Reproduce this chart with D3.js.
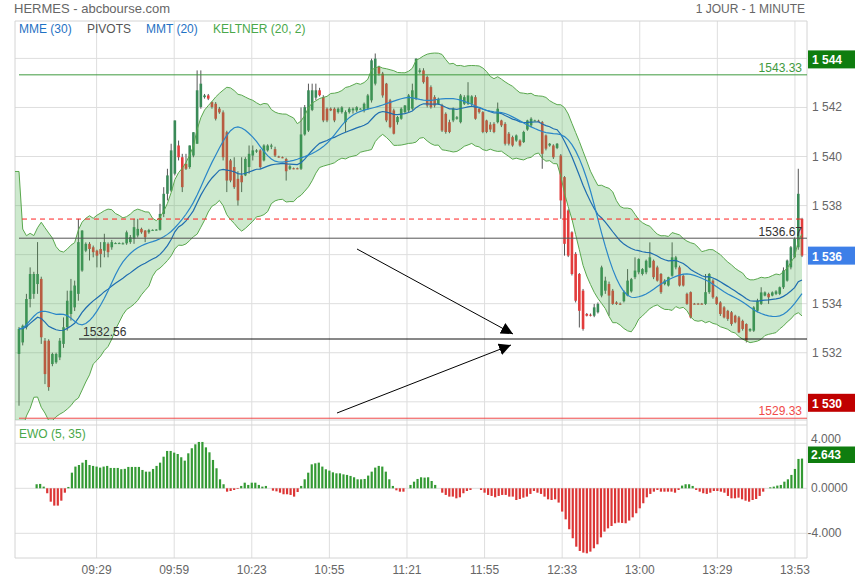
<!DOCTYPE html>
<html><head><meta charset="utf-8">
<script src="https://cdn.jsdelivr.net/npm/d3@7"></script>
<style>body{margin:0;background:#fff;}svg{display:block;font-family:"Liberation Sans",Arial,sans-serif;}</style>
</head><body><svg id="c" width="855" height="580"></svg>
<script>
// ---------- DATA ----------
const opens=[1531.95,1532.42,1533.04,1534.19,1534.40,1534.80,1535.01,1532.49,1532.49,1531.54,
1531.61,1531.81,1532.36,1533.04,1533.58,1533.85,1534.40,1535.35,1536.16,1536.44,
1536.30,1536.16,1536.23,1536.16,1536.44,1536.30,1536.46,1536.46,1536.45,1536.46,
1536.51,1536.64,1536.78,1537.05,1536.98,1536.91,1537.00,1537.01,1537.01,1537.66,
1538.48,1538.61,1539.30,1540.45,1539.97,1539.70,1539.57,1540.04,1540.52,1542.02,
1542.42,1542.49,1542.22,1542.15,1541.95,1541.80,1540.99,1539.84,1539.57,1539.09,
1539.23,1539.23,1539.57,1540.04,1540.20,1540.25,1539.84,1540.25,1540.40,1540.30,
1540.00,1539.97,1539.90,1539.50,1539.52,1539.52,1539.50,1540.90,1541.06,1541.90,
1542.40,1542.70,1542.42,1541.95,1541.95,1541.95,1541.81,1541.81,1541.40,1541.81,
1541.88,1541.88,1541.94,1541.88,1541.95,1542.29,1542.97,1543.65,1543.38,1542.97,
1542.29,1541.88,1541.40,1541.54,1541.81,1541.88,1541.95,1542.35,1543.45,1543.51,
1543.24,1542.83,1542.42,1542.15,1542.08,1541.74,1541.40,1541.47,1541.54,1541.40,
1542.15,1542.15,1542.15,1542.42,1541.95,1541.81,1541.47,1541.30,1541.33,1541.40,
1541.47,1541.33,1540.93,1540.79,1540.65,1540.65,1540.59,1541.10,1541.27,1541.46,
1541.46,1541.40,1540.86,1540.45,1540.45,1540.35,1540.04,1539.16,1537.80,1536.91,
1536.03,1535.21,1534.53,1533.58,1533.55,1533.51,1533.65,1534.33,1534.53,1534.80,
1534.53,1534.05,1534.00,1534.10,1534.33,1534.50,1535.08,1535.28,1535.21,1535.28,
1535.48,1535.75,1535.48,1535.21,1534.80,1534.74,1535.14,1535.48,1535.48,1535.14,
1534.40,1534.47,1534.00,1534.00,1534.00,1533.99,1534.47,1534.94,1534.26,1534.05,
1533.85,1533.71,1533.65,1533.51,1533.44,1533.30,1533.17,1532.90,1532.90,1533.71,
1533.99,1534.33,1534.40,1534.33,1534.40,1534.40,1534.67,1534.94,1535.48,1535.89,
1536.30,1537.46];
const highs=[1533.05,1533.15,1534.40,1535.48,1535.30,1536.51,1535.10,1532.60,1532.55,1532.00,
1532.00,1532.60,1533.44,1534.53,1535.01,1534.94,1537.46,1537.00,1536.50,1536.51,
1536.37,1536.20,1536.51,1536.85,1536.50,1536.60,1536.50,1536.50,1536.50,1536.98,
1536.80,1537.46,1537.46,1537.10,1537.00,1537.05,1537.03,1537.04,1538.07,1538.75,
1539.50,1540.52,1541.47,1540.65,1540.11,1540.11,1540.45,1540.99,1543.51,1543.51,
1542.55,1542.55,1542.25,1542.22,1542.02,1541.88,1541.05,1539.90,1539.97,1539.40,
1539.97,1539.97,1540.45,1540.45,1540.30,1540.30,1540.50,1540.50,1540.52,1540.40,
1540.03,1540.00,1539.95,1539.65,1539.55,1539.55,1542.00,1542.10,1542.97,1542.97,
1542.97,1542.80,1542.50,1542.00,1542.00,1542.00,1542.00,1542.05,1541.88,1542.01,
1542.00,1542.05,1541.97,1542.20,1542.55,1543.99,1544.20,1543.70,1543.45,1543.00,
1542.35,1541.95,1541.65,1542.00,1542.10,1542.55,1542.97,1544.00,1543.60,1543.60,
1543.30,1542.90,1542.50,1542.40,1542.15,1541.80,1541.50,1542.00,1541.65,1542.55,
1542.50,1543.03,1542.50,1542.50,1542.00,1541.85,1541.50,1541.40,1541.40,1542.20,
1541.50,1541.40,1541.00,1540.85,1540.90,1540.70,1541.05,1541.50,1541.60,1541.50,
1541.50,1541.45,1540.90,1540.55,1540.50,1540.55,1540.10,1539.20,1537.85,1536.95,
1536.10,1535.25,1534.60,1533.62,1533.60,1533.99,1534.05,1535.55,1535.10,1534.90,
1534.60,1534.10,1534.05,1534.55,1535.41,1535.05,1535.89,1535.85,1535.45,1535.80,
1536.50,1535.80,1535.55,1535.25,1535.00,1535.10,1536.50,1535.95,1535.55,1535.20,
1534.45,1534.50,1534.03,1534.03,1534.03,1535.21,1535.25,1535.00,1534.30,1534.10,
1533.90,1533.75,1533.70,1533.55,1533.50,1533.35,1533.20,1533.00,1533.90,1534.20,
1534.67,1534.50,1534.45,1534.50,1534.55,1534.70,1535.48,1535.80,1536.35,1536.70,
1539.50,1537.50];
const lows=[1529.84,1532.30,1532.95,1533.85,1534.20,1534.40,1532.36,1530.72,1530.45,1531.45,
1531.55,1531.70,1532.20,1532.90,1533.31,1533.70,1534.12,1535.30,1536.10,1535.76,
1535.89,1535.48,1535.48,1535.89,1535.89,1536.20,1536.44,1536.44,1536.42,1536.40,
1536.44,1536.44,1536.70,1536.85,1536.51,1536.85,1536.98,1536.98,1536.98,1537.53,
1538.21,1538.55,1539.23,1539.84,1538.55,1539.45,1539.50,1539.97,1540.52,1541.95,
1542.36,1542.30,1541.95,1541.47,1541.74,1539.84,1538.55,1538.95,1538.68,1538.00,
1538.55,1539.20,1539.30,1539.84,1540.15,1539.50,1539.80,1540.20,1540.30,1539.98,
1539.95,1539.93,1539.02,1539.45,1539.48,1539.48,1539.45,1540.85,1541.00,1541.85,
1542.30,1542.45,1541.40,1541.40,1541.85,1541.40,1541.75,1541.75,1541.00,1541.75,
1541.75,1541.81,1541.92,1541.80,1541.90,1542.20,1542.90,1543.30,1542.40,1541.40,
1541.15,1540.90,1541.30,1541.50,1541.75,1541.80,1541.90,1542.30,1543.38,1542.97,
1542.00,1541.95,1542.00,1542.10,1541.00,1540.93,1540.95,1541.40,1541.50,1541.35,
1542.10,1542.10,1542.05,1541.50,1541.75,1540.95,1540.95,1541.00,1540.95,1541.35,
1541.20,1540.45,1540.45,1540.40,1540.60,1540.40,1540.55,1541.05,1541.20,1541.44,
1541.42,1539.50,1540.25,1540.40,1539.90,1540.30,1537.46,1535.96,1535.90,1535.15,
1534.05,1533.03,1532.90,1533.48,1533.48,1533.45,1533.60,1534.26,1534.40,1533.51,
1533.95,1533.95,1533.95,1534.05,1534.30,1534.45,1535.00,1535.20,1535.15,1535.20,
1535.45,1535.00,1534.90,1534.40,1534.75,1534.70,1535.10,1535.40,1534.70,1534.70,
1533.95,1533.40,1533.97,1533.97,1533.97,1533.95,1534.40,1534.20,1533.95,1533.50,
1533.40,1533.30,1533.10,1533.20,1532.80,1532.90,1532.42,1532.85,1532.85,1533.65,
1533.95,1534.30,1533.99,1534.30,1534.35,1534.35,1534.60,1534.90,1535.40,1535.85,
1536.20,1535.90];
const closes=[1532.97,1533.10,1534.19,1535.21,1535.21,1535.21,1532.63,1531.13,1530.60,1531.95,
1531.95,1532.49,1533.04,1534.12,1534.53,1534.74,1536.51,1536.98,1536.44,1536.23,
1536.10,1535.96,1536.03,1536.51,1536.10,1536.51,1536.47,1536.47,1536.46,1536.91,
1536.71,1537.12,1537.05,1536.91,1536.71,1537.00,1537.01,1537.02,1537.66,1538.48,
1539.23,1540.25,1541.47,1539.97,1538.75,1539.50,1540.45,1540.99,1542.70,1542.97,
1542.49,1542.36,1542.02,1541.54,1541.80,1539.97,1539.02,1539.02,1538.75,1538.21,
1538.95,1539.90,1540.11,1540.25,1540.25,1539.57,1540.45,1540.45,1540.45,1540.04,
1539.97,1539.95,1539.40,1539.60,1539.50,1539.50,1540.90,1542.01,1542.70,1542.70,
1542.70,1542.50,1541.47,1541.47,1541.88,1541.47,1541.95,1542.00,1541.81,1541.95,
1541.95,1542.01,1541.95,1542.15,1542.49,1543.92,1543.99,1543.38,1542.49,1541.47,
1541.20,1540.93,1541.61,1541.95,1542.08,1542.49,1542.70,1543.99,1543.51,1543.03,
1542.08,1542.01,1542.08,1542.35,1541.06,1541.00,1541.00,1541.95,1541.60,1542.49,
1542.42,1542.49,1542.45,1541.54,1541.81,1541.00,1541.00,1541.10,1541.00,1541.95,
1541.27,1540.52,1540.52,1540.45,1540.86,1540.45,1541.00,1541.47,1541.54,1541.47,
1541.45,1540.11,1540.32,1540.52,1539.97,1540.52,1538.21,1536.44,1535.96,1535.21,
1534.12,1533.71,1532.97,1533.51,1533.51,1533.85,1533.99,1535.48,1534.94,1534.33,
1533.99,1533.99,1533.97,1534.47,1534.94,1535.00,1535.35,1535.82,1535.41,1535.75,
1535.89,1535.08,1534.94,1534.47,1534.94,1535.08,1535.89,1535.89,1534.74,1534.74,
1533.99,1533.44,1533.99,1533.99,1533.99,1534.47,1535.21,1534.26,1533.99,1533.58,
1533.44,1533.38,1533.17,1533.24,1532.83,1532.97,1532.49,1532.97,1533.85,1534.12,
1534.46,1534.46,1534.26,1534.46,1534.50,1534.67,1535.35,1535.76,1536.30,1536.64,
1538.48,1535.96];
const ewo=[null,null,null,null,null,0.36,0.39,0.15,-0.44,-1.19,
-1.54,-1.54,-1.10,-0.39,0.12,1.39,1.93,2.07,2.28,2.52,
2.07,1.99,1.93,1.84,1.93,1.99,1.81,1.81,1.81,1.70,
1.73,1.90,1.90,1.90,1.90,1.63,1.48,1.48,1.72,1.99,
2.28,2.81,3.32,3.32,3.17,3.05,2.76,2.46,3.11,3.56,
3.91,4.12,4.12,3.64,3.20,2.52,1.78,0.80,0.36,-0.30,
-0.24,-0.15,-0.06,0.21,0.50,0.30,0.50,0.50,0.30,0.15,
0.21,0,-0.21,-0.27,-0.39,-0.53,-0.53,-0.59,-0.74,-0.33,
0.21,0.80,1.39,2.13,2.22,2.28,1.93,1.69,1.57,1.42,
1.33,1.33,1.24,1.19,1.10,0.98,0.80,0.80,0.83,1.13,
1.48,1.84,1.99,1.93,1.48,0.80,0.21,-0.18,-0.30,-0.30,
0,0.30,0.59,0.83,0.98,0.95,0.98,0.65,0.30,0,
-0.39,-0.59,-0.74,-0.74,-0.89,-0.80,-0.44,-0.24,-0.15,0,
0,-0.15,-0.39,-0.59,-0.68,-0.80,-0.68,-0.59,-0.59,-0.74,
-0.74,-1.04,-0.95,-0.83,-0.74,-0.50,-0.24,-0.39,-0.50,-0.74,
-0.98,-1.04,-0.98,-1.27,-2.07,-2.76,-3.64,-4.44,-5.19,-5.57,
-5.72,-5.78,-5.63,-5.33,-4.98,-4.36,-3.85,-3.56,-3.35,-3.11,
-3.05,-3.08,-3.11,-2.87,-2.58,-2.22,-1.78,-1.33,-0.80,-0.50,
-0.30,-0.15,-0.30,-0.30,-0.30,-0.30,-0.39,-0.15,0.24,0.36,
0.36,0.21,-0.15,-0.30,-0.44,-0.50,-0.39,-0.24,-0.24,-0.30,
-0.39,-0.68,-0.89,-0.89,-0.83,-0.98,-1.10,-1.19,-1.04,-0.95,
-0.68,-0.30,0,0.09,0.15,0.24,0.30,0.59,0.80,1.19,
1.72,2.61,2.643];
const tickLabels=["09:29","09:59","10:23","10:55","11:21","11:55","12:33","13:00","13:29","13:53"];
const tickIndex=[22,44,66,88,110,132,154,176,198,220];
const priceTicks=[1530,1532,1534,1536,1538,1540,1542,1544];
const ewoTicks=[-4,0,4];
const ewoTickLabels=["-4.000","0.0000","4.000"];
const pivots=[1543.33,1536.67,1529.33];
const pivotS1=1532.56;
const prevClose=1537.45;
const lastEwo=2.643;
const legend=["MME (30)","PIVOTS","MMT (20)","KELTNER (20, 2)"];

// ---------- LAYOUT ----------
const L=15,R=807,T=21,B=420,ET=425,EB=558;
const svg=d3.select('#c');
const y=d3.scaleLinear().domain([1530,1544]).range([401.8,58.4]);
const ye=d3.scaleLinear().domain([-4,4]).range([533.3,443.3]);
const xe=d3.scaleLinear().domain([0,ewo.length-1]).range([19,802]);
const x=d3.scaleLinear().domain([0,closes.length-1]).range([19,802]);
const GRID="#dedede", TXT="#666";

const defs=svg.append('defs');
defs.append('clipPath').attr('id','mainclip').append('rect').attr('x',L).attr('y',T).attr('width',R-L).attr('height',B-T);
defs.append('marker').attr('id','ah').attr('viewBox','0 0 10 10').attr('refX',10).attr('refY',5)
 .attr('markerWidth',12).attr('markerHeight',12).attr('markerUnits','userSpaceOnUse').attr('orient','auto')
 .append('path').attr('d','M0,0L10,5L0,10z').attr('fill','#000');

// grid
const g=svg.append('g');
tickIndex.forEach(i=>g.append('line').attr('x1',xe(i)).attr('x2',xe(i)).attr('y1',T).attr('y2',EB).attr('stroke',GRID));
priceTicks.forEach(v=>g.append('line').attr('x1',L).attr('x2',R).attr('y1',y(v)).attr('y2',y(v)).attr('stroke',GRID));
ewoTicks.forEach(v=>g.append('line').attr('x1',L).attr('x2',R).attr('y1',ye(v)).attr('y2',ye(v)).attr('stroke',GRID));
[[L,T,R,T],[L,B,R,B],[L,ET,R,ET],[L,EB,R,EB],[L,T,L,EB],[R,T,R,EB]].forEach(d=>
 g.append('line').attr('x1',d[0]).attr('y1',d[1]).attr('x2',d[2]).attr('y2',d[3]).attr('stroke','#d4d4d4'));

// header
svg.append('text').attr('x',14).attr('y',13).attr('font-size',13).attr('fill',TXT).text('HERMES - abcbourse.com');
svg.append('text').attr('x',805).attr('y',13).attr('text-anchor','end').attr('font-size',12).attr('fill',TXT).text('1 JOUR - 1 MINUTE');

// legend
const legX=[19,87,146,213], legC=["#1f72c4","#555","#1f72c4","#4aa84a"];
legend.forEach((t,i)=>svg.append('text').attr('x',legX[i]).attr('y',33).attr('font-size',12).attr('fill',legC[i]).text(t));

// indicators computed from closes
function ema(a,n){const k=2/(n+1);let p;return a.map((v,i)=>(p=i===0?v:p+k*(v-p)));}
function sma(a,n){return a.map((v,i)=>d3.mean(a.slice(Math.max(0,i-n+1),i+1)));}
const mme30=ema(closes,30);
const mmt20=sma(sma(closes,10),11);
const tr=closes.map((c,i)=>i===0?highs[0]-lows[0]:Math.max(highs[i]-lows[i],Math.abs(highs[i]-closes[i-1]),Math.abs(lows[i]-closes[i-1])));
const atr=sma(tr,20);
const mid=ema(closes,20);
const up=mid.map((m,i)=>m+2*atr[i]), lo=mid.map((m,i)=>m-2*atr[i]);

const main=svg.append('g').attr('clip-path','url(#mainclip)');
// candles
const idx=d3.range(closes.length);
const GREEN="#3a8a58", RED="#e23c3c";
main.selectAll('.wk').data(idx).join('line').attr('x1',i=>x(i)).attr('x2',i=>x(i))
 .attr('y1',i=>y(highs[i])).attr('y2',i=>y(lows[i])).attr('stroke','#555').attr('stroke-width',1);
main.selectAll('.bd').data(idx).join('rect').attr('x',i=>x(i)-1.3).attr('width',2.6)
 .attr('y',i=>y(Math.max(opens[i],closes[i]))).attr('height',i=>Math.max(1,Math.abs(y(opens[i])-y(closes[i]))))
 .attr('fill',i=>closes[i]>=opens[i]?GREEN:RED);

// keltner band over candles
const bandIdx=[-1].concat(idx);
const bx=i=>i<0?L:x(i), bi=i=>Math.max(i,0);
main.append('path').datum(bandIdx).attr('d',d3.area().x(bx).y0(i=>y(lo[bi(i)])).y1(i=>y(up[bi(i)])))
 .attr('fill','rgba(76,175,80,0.28)');
main.append('path').datum(bandIdx).attr('d',d3.line().x(bx).y(i=>y(up[bi(i)]))).attr('fill','none').attr('stroke','#5aa84e');
main.append('path').datum(bandIdx).attr('d',d3.line().x(bx).y(i=>y(lo[bi(i)]))).attr('fill','none').attr('stroke','#5aa84e');
// moving averages
main.append('path').datum(idx).attr('d',d3.line().x(i=>x(i)).y(i=>y(mme30[i]))).attr('fill','none').attr('stroke','#1f6db0').attr('stroke-width',1.2);
main.append('path').datum(idx).attr('d',d3.line().x(i=>x(i)).y(i=>y(mmt20[i]))).attr('fill','none').attr('stroke','#2a86c8').attr('stroke-width',1.2);

// pivots
main.append('line').attr('x1',19).attr('x2',R).attr('y1',y(pivots[0])).attr('y2',y(pivots[0])).attr('stroke','#3f9a3f');
main.append('line').attr('x1',19).attr('x2',R).attr('y1',y(pivots[1])).attr('y2',y(pivots[1])).attr('stroke','#555');
main.append('line').attr('x1',19).attr('x2',R).attr('y1',y(pivots[2])).attr('y2',y(pivots[2])).attr('stroke','#f04a4a');
main.append('line').attr('x1',79).attr('x2',R).attr('y1',y(pivotS1)).attr('y2',y(pivotS1)).attr('stroke','#111');
main.append('line').attr('x1',22).attr('x2',801).attr('y1',y(prevClose)).attr('y2',y(prevClose)).attr('stroke','#f22').attr('stroke-dasharray','5,4');
svg.append('text').attr('x',802).attr('y',y(pivots[0])-3).attr('text-anchor','end').attr('font-size',12).attr('fill','#3f9a3f').text(pivots[0].toFixed(2));
svg.append('text').attr('x',802).attr('y',y(pivots[1])-2).attr('text-anchor','end').attr('font-size',12).attr('fill','#333').text(pivots[1].toFixed(2));
svg.append('text').attr('x',802).attr('y',y(pivots[2])-3).attr('text-anchor','end').attr('font-size',12).attr('fill','#f04a4a').text(pivots[2].toFixed(2));
svg.append('text').attr('x',83).attr('y',y(pivotS1)-3).attr('font-size',12).attr('fill','#333').text(pivotS1.toFixed(2));

// arrows (annotation)
svg.append('line').attr('x1',357).attr('y1',249).attr('x2',513).attr('y2',334).attr('stroke','#000').attr('marker-end','url(#ah)');
svg.append('line').attr('x1',337).attr('y1',413).attr('x2',511).attr('y2',345).attr('stroke','#000').attr('marker-end','url(#ah)');

// price axis labels
const fmt=v=>{const s=String(v);return s.slice(0,1)+' '+s.slice(1);};
const boxes={1544:"#0f7d0f",1536:"#3d7fe8",1530:"#c00000"};
priceTicks.forEach(v=>{
 if(boxes[v]){svg.append('rect').attr('x',808).attr('y',y(v)-8).attr('width',47).attr('height',18).attr('fill',boxes[v]);
  svg.append('text').attr('x',812).attr('y',y(v)+6).attr('font-size',12).attr('font-weight','bold').attr('fill','#fff').text(fmt(v));}
 else svg.append('text').attr('x',812).attr('y',y(v)+4).attr('font-size',12).attr('fill',TXT).text(fmt(v));
});

// EWO
svg.append('text').attr('x',19).attr('y',438).attr('font-size',12).attr('fill','#4aa84a').text('EWO (5, 35)');
const eidx=d3.range(ewo.length).filter(i=>ewo[i]!==null&&ewo[i]!==0);
svg.append('g').selectAll('rect').data(eidx).join('rect').attr('x',i=>xe(i)-1.1).attr('width',2.2)
 .attr('y',i=>Math.min(ye(ewo[i]),ye(0))).attr('height',i=>Math.abs(ye(ewo[i])-ye(0)))
 .attr('fill',i=>ewo[i]>0?"#349a34":"#dc3535");
ewoTicks.forEach((v,k)=>svg.append('text').attr('x',v<0?807.5:811).attr('y',v>0?ye(v)-0.5:ye(v)+4).attr('font-size',12).attr('fill',TXT).text(ewoTickLabels[k]));
svg.append('rect').attr('x',808).attr('y',446.5).attr('width',47).attr('height',16.5).attr('fill','#0f7d0f');
svg.append('text').attr('x',811).attr('y',459).attr('font-size',12).attr('font-weight','bold').attr('fill','#fff').text(lastEwo.toFixed(3));

// time axis
tickIndex.forEach((t,k)=>svg.append('text').attr('x',xe(t)).attr('y',574).attr('text-anchor','middle').attr('font-size',12).attr('fill',TXT).text(tickLabels[k]));
</script></body></html>
